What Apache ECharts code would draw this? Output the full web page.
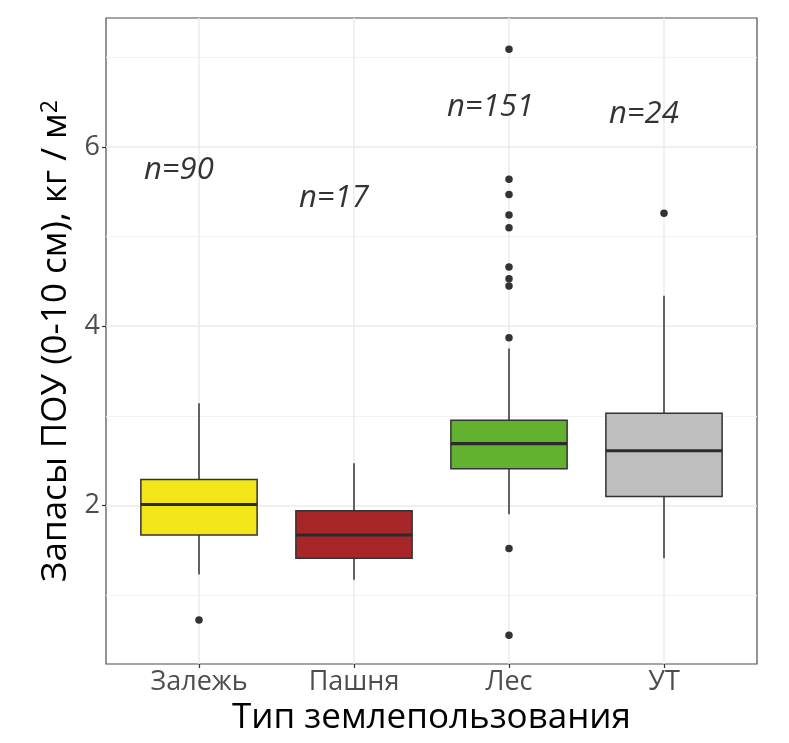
<!DOCTYPE html>
<html>
<head>
<meta charset="utf-8">
<script src="https://cdn.jsdelivr.net/npm/echarts@6/dist/echarts.min.js"></script>
<style>
  html, body { margin: 0; padding: 0; background: #fff; }
  #main { width: 789px; height: 743px; }
</style>
</head>
<body>
<div id="main"></div>
<script>
// land use types and box colours
var categories = ['Залежь', 'Пашня', 'Лес', 'УТ'];
var boxColors = ['#F2E619', '#A6262A', '#63B22F', '#BEBEBE'];

// lower whisker, Q1, median, Q3, upper whisker (kg / m2)
var lowerWhisker = [1.23, 1.17, 1.90, 1.41];
var q1 = [1.67, 1.41, 2.41, 2.10];
var median = [2.01, 1.67, 2.69, 2.61];
var q3 = [2.29, 1.94, 2.95, 3.03];
var upperWhisker = [3.14, 2.47, 3.75, 4.34];

// outliers per category
var outliers = [
    [0.72],
    [],
    [7.09, 5.64, 5.47, 5.24, 5.10, 4.66, 4.53, 4.45, 3.87, 1.52, 0.55],
    [5.26]
];

// sample size labels and where they sit
var nLabels = ['n=90', 'n=17', 'n=151', 'n=24'];
var nLabelX = [0.87, 1.87, 2.88, 3.87];
var nLabelY = [5.74, 5.43, 6.44, 6.37];

var boxData = categories.map(function (c, i) {
    return [i + 1, lowerWhisker[i], q1[i], median[i], q3[i], upperWhisker[i]];
});
var outlierData = [];
outliers.forEach(function (arr, i) {
    arr.forEach(function (v) { outlierData.push([i + 1, v]); });
});
var labelData = nLabels.map(function (t, i) {
    return { name: t, value: [nLabelX[i], nLabelY[i]] };
});

var myChart = echarts.init(document.getElementById('main'));
var font = 'Open Sans';

var option = {
    backgroundColor: '#fff',
    animation: false,
    grid: {
        left: 106, top: 18, right: 32, bottom: 79,
        show: true, borderColor: '#4d4d4d', borderWidth: 1.2, backgroundColor: 'transparent'
    },
    xAxis: {
        type: 'value',
        min: 0.4, max: 4.6,
        name: 'Тип землепользования',
        nameLocation: 'middle',
        nameGap: 36,
        nameTextStyle: { fontFamily: font, fontSize: 35, color: '#000' },
        axisLine: { show: false },
        axisTick: { show: true, length: 4, customValues: [1, 2, 3, 4], lineStyle: { color: '#333', width: 1.2 } },
        axisLabel: {
            customValues: [1, 2, 3, 4], margin: 5,
            fontFamily: font, fontSize: 27, color: '#4d4d4d',
            formatter: function (v) { return categories[Math.round(v) - 1] || ''; }
        },
        splitLine: { show: true, lineStyle: { color: '#ebebeb', width: 1.5 } }
    },
    yAxis: [{
        type: 'value',
        min: 0.23, max: 7.44,
        name: '{a|Запасы ПОУ (0-10 см), кг / м}{s|2}',
        nameLocation: 'middle',
        nameRotate: 90,
        nameGap: 25,
        nameTextStyle: {
            rich: {
                a: { fontFamily: font, fontSize: 35, color: '#000' },
                s: { fontFamily: font, fontSize: 23, color: '#000', verticalAlign: 'top' }
            }
        },
        axisLine: { show: false },
        axisTick: { show: true, length: 4, customValues: [2, 4, 6], lineStyle: { color: '#333', width: 1.2 } },
        axisLabel: {
            customValues: [2, 4, 6], margin: 6,
            fontFamily: font, fontSize: 27, color: '#4d4d4d'
        },
        splitLine: { show: true, lineStyle: { color: '#ebebeb', width: 1.5 } }
    }, {
        type: 'value',
        position: 'left',
        min: 0.23, max: 7.44,
        axisLine: { show: false },
        axisTick: { show: false, customValues: [1, 3, 5, 7] },
        axisLabel: { show: false },
        splitLine: { show: true, lineStyle: { color: '#f2f2f2', width: 1 } }
    }],
    series: [{
        type: 'custom',
        data: boxData,
        z: 3,
        renderItem: function (params, api) {
            var x = api.value(0);
            var lo = api.coord([x, api.value(1)]);
            var b1 = api.coord([x, api.value(2)]);
            var md = api.coord([x, api.value(3)]);
            var b3 = api.coord([x, api.value(4)]);
            var hi = api.coord([x, api.value(5)]);
            var w = api.size([0.75, 0])[0];
            var line = { stroke: '#333', lineWidth: 1.5 };
            return {
                type: 'group',
                children: [
                    { type: 'line', shape: { x1: lo[0], y1: lo[1], x2: b1[0], y2: b1[1] }, style: line },
                    { type: 'line', shape: { x1: b3[0], y1: b3[1], x2: hi[0], y2: hi[1] }, style: line },
                    { type: 'rect', shape: { x: b3[0] - w / 2, y: b3[1], width: w, height: b1[1] - b3[1] },
                      style: { fill: boxColors[params.dataIndex], stroke: '#333', lineWidth: 1.5 } },
                    { type: 'line', shape: { x1: md[0] - w / 2, y1: md[1], x2: md[0] + w / 2, y2: md[1] },
                      style: { stroke: '#2b2b2b', lineWidth: 3.2 } }
                ]
            };
        }
    }, {
        type: 'scatter',
        data: outlierData,
        symbolSize: 7.5,
        itemStyle: { color: '#333', opacity: 1 },
        z: 4
    }, {
        type: 'scatter',
        data: labelData,
        symbolSize: 0,
        label: {
            show: true, position: 'inside', formatter: '{b}',
            fontFamily: font, fontStyle: 'italic', fontSize: 31, color: '#000'
        },
        z: 5
    }]
};

myChart.setOption(option);
</script>
</body>
</html>
